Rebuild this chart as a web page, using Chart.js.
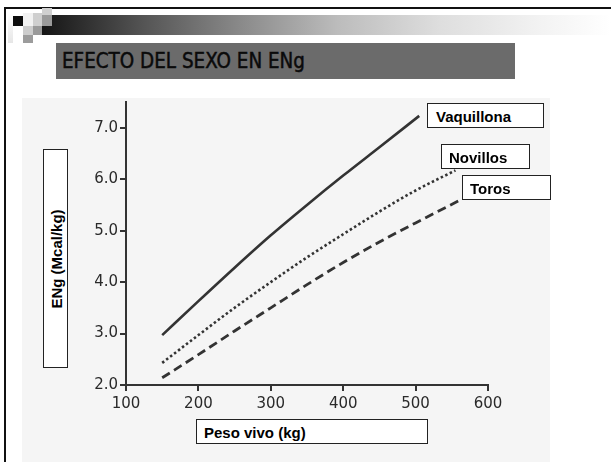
<!DOCTYPE html>
<html>
<head>
<meta charset="utf-8">
<script src="https://cdn.jsdelivr.net/npm/chart.js@4.4.1/dist/chart.umd.min.js"></script>
<style>
  html, body { margin: 0; padding: 0; background: #fff; }
  #slide { position: relative; width: 611px; height: 462px; overflow: hidden; background: #fff; }
  .abs { position: absolute; }
  .frame { left: 4px; top: 7px; width: 640px; height: 470px; border-left: 2px solid #111; border-top: 2px solid #111; }
  .bar { left: 42px; top: 15px; width: 569px; height: 20px;
         background: linear-gradient(to right, #151515 0%, #555 18%, #8a8a8a 35%, #bcbcbc 52%, #dedede 70%, #f3f3f3 88%, #fff 100%); }
  .sq { position: absolute; }
  .title { left: 56px; top: 43px; width: 459px; height: 36px; background: #6b6b6b; }
  .title span { position: absolute; left: 6px; top: 8px; font-family: "DejaVu Sans", sans-serif;
                font-size: 21px; line-height: 21px; color: #0a0a0a; white-space: nowrap; transform-origin: 0 0;
                -webkit-text-stroke: 0.5px #0a0a0a; }
  .scan { left: 22px; top: 98px; width: 528px; height: 364px; background: #f5f5f5; }
  .box { position: absolute; background: #fff; border: 1px solid #222; box-sizing: border-box;
         font-family: "Liberation Sans", Arial, sans-serif; font-weight: bold; font-size: 15px; color: #000; white-space: nowrap; z-index: 3; }
  #chartWrap { position: absolute; left: 0; top: 0; width: 611px; height: 462px; z-index: 2; }
</style>
</head>
<body>
<div id="slide">
  <div class="abs scan"></div>
  <div class="abs frame"></div>
  <div class="abs bar"></div>
  <div class="sq" style="left:8px;top:13px;width:5px;height:30px;background:linear-gradient(#fff,#e6e6e6);"></div>
  <div class="sq" style="left:13px;top:16px;width:10px;height:10px;background:#0d0d0d;"></div>
  <div class="sq" style="left:23px;top:13px;width:10px;height:13px;background:#f2f2f2;"></div>
  <div class="sq" style="left:33px;top:13px;width:9px;height:13px;background:#cfcfcf;"></div>
  <div class="sq" style="left:42px;top:8px;width:10px;height:7px;background:#d0d0d0;"></div>
  <div class="sq" style="left:42px;top:15px;width:10px;height:11px;background:#9a9a9a;"></div>
  <div class="sq" style="left:23px;top:26px;width:10px;height:9px;background:#cdcdcd;"></div>
  <div class="sq" style="left:33px;top:26px;width:9px;height:9px;background:#9a9a9a;"></div>
  <div class="sq" style="left:23px;top:35px;width:10px;height:8px;background:#9c9c9c;"></div>
  <div class="abs title"><span id="titleText">EFECTO DEL SEXO EN ENg</span></div>

  <div id="chartWrap"><canvas id="engChart" width="611" height="462"></canvas></div>

  <div class="box" style="left:43px;top:149px;width:25px;height:219px;">
    <span style="position:absolute;left:50%;top:50%;transform:translate(-50%,-50%) rotate(-90deg);">ENg (Mcal/kg)</span>
  </div>
  <div class="box" style="left:196px;top:419px;width:232px;height:25px;padding:4px 0 0 7px;">Peso vivo (kg)</div>
  <div class="box" style="left:427px;top:103px;width:117px;height:25px;padding:4px 0 0 8px;">Vaquillona</div>
  <div class="box" style="left:441px;top:144px;width:89px;height:25px;padding:4px 0 0 7px;">Novillos</div>
  <div class="box" style="left:462px;top:175px;width:89px;height:25px;padding:4px 0 0 7px;">Toros</div>
</div>

<script>
// ENg (Mcal/kg) vs peso vivo (kg)
const pesoVaquillona = [150, 200, 250, 300, 350, 400, 450, 505];
const engVaquillona = [2.97, 3.63, 4.28, 4.91, 5.50, 6.07, 6.62, 7.23];

const pesoNovillos = [150, 200, 250, 300, 350, 400, 450, 500, 555];
const engNovillos = [2.43, 2.97, 3.50, 4.00, 4.48, 4.93, 5.37, 5.78, 6.17];

const pesoToros = [150, 200, 250, 300, 350, 400, 450, 500, 565];
const engToros = [2.14, 2.59, 3.05, 3.50, 3.95, 4.38, 4.78, 5.15, 5.62];

const xTicks = [100, 200, 300, 400, 500, 600];
const yTicks = [2, 3, 4, 5, 6, 7];

const lineColor = '#333';
const tickFont = { family: 'DejaVu Sans', size: 15 };

// squeeze the title to the width it has on the slide
const titleEl = document.getElementById('titleText');
const titleW = titleEl.getBoundingClientRect().width;
if (titleW > 0) titleEl.style.transform = 'scaleX(' + (243 / titleW) + ')';

function toPoints(xs, ys) {
    return xs.map((x, i) => ({ x: x, y: ys[i] }));
}

const ctx = document.getElementById('engChart').getContext('2d');

const engChart = new Chart(ctx, {
    type: 'line',
    data: {
        datasets: [{
            label: 'Vaquillona',
            data: toPoints(pesoVaquillona, engVaquillona),
            borderColor: lineColor,
            borderWidth: 2.6
        }, {
            label: 'Novillos',
            data: toPoints(pesoNovillos, engNovillos),
            borderColor: lineColor,
            borderWidth: 2.6,
            borderDash: [2.5, 2.5]
        }, {
            label: 'Toros',
            data: toPoints(pesoToros, engToros),
            borderColor: lineColor,
            borderWidth: 2.8,
            borderDash: [9, 5]
        }]
    },
    options: {
        responsive: false,
        animation: false,
        parsing: false,
        layout: {
            padding: { left: 0, top: 102, right: 123, bottom: 37 }
        },
        elements: {
            point: { radius: 0 },
            line: { cubicInterpolationMode: 'monotone', fill: false }
        },
        plugins: {
            legend: { display: false },
            tooltip: { enabled: false }
        },
        scales: {
            x: {
                type: 'linear',
                min: 100,
                max: 600,
                afterBuildTicks: (scale) => { scale.ticks = xTicks.map(v => ({ value: v })); },
                afterFit: (scale) => { scale.height = 40; },
                ticks: { color: '#2a2a2a', font: tickFont, padding: 4, maxRotation: 0 },
                grid: { drawOnChartArea: false, drawTicks: true, tickLength: 6, color: lineColor, lineWidth: 2 },
                border: { display: true, color: lineColor, width: 2 }
            },
            y: {
                type: 'linear',
                min: 2,
                max: 7.5,
                afterBuildTicks: (scale) => { scale.ticks = yTicks.map(v => ({ value: v })); },
                afterFit: (scale) => { scale.width = 126; },
                ticks: { color: '#2a2a2a', font: tickFont, padding: 2, callback: (v) => Number(v).toFixed(1) },
                grid: { drawOnChartArea: false, drawTicks: true, tickLength: 6, color: lineColor, lineWidth: 2 },
                border: { display: true, color: lineColor, width: 2 }
            }
        }
    }
});
</script>
</body>
</html>
